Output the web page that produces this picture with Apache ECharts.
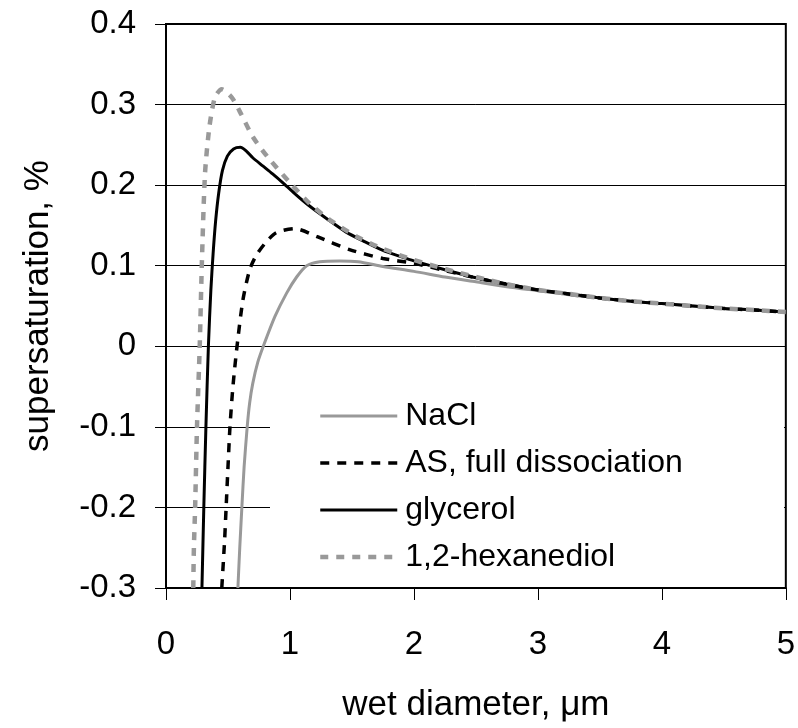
<!DOCTYPE html>
<html>
<head>
<meta charset="utf-8">
<script src="https://cdn.jsdelivr.net/npm/echarts@6/dist/echarts.min.js"></script>
<style>html,body{margin:0;padding:0;background:#fff;}#c{width:798px;height:728px;}</style>
</head>
<body>
<div id="c"></div>
<script>
var seriesNames = ['NaCl', 'AS, full dissociation', 'glycerol', '1,2-hexanediol'];
var xAxisTitle = 'wet diameter, \u03bcm';
var yAxisTitle = 'supersaturation, %';

var naclData = [[0.58,-0.30],[0.595,-0.25],[0.612,-0.20],[0.630,-0.15],[0.655,-0.10],[0.675,-0.07],[0.70,-0.046],[0.74,-0.02],[0.785,0.0],[0.879,0.037],[0.973,0.066],[1.054,0.086],[1.135,0.100],[1.24,0.105],[1.40,0.106],[1.55,0.105],[1.75,0.099],[2.0,0.093],[2.25,0.086],[2.5,0.080],[2.75,0.074],[3.0,0.069],[3.25,0.064],[3.5,0.060],[3.75,0.056],[4.0,0.053],[4.25,0.050],[4.5,0.047],[4.75,0.045],[5.0,0.0425]];
var asData = [[0.45,-0.30],[0.473,-0.24],[0.485,-0.20],[0.50,-0.15],[0.516,-0.10],[0.54,-0.05],[0.573,0.0],[0.62,0.057],[0.675,0.095],[0.725,0.112],[0.80,0.128],[0.89,0.141],[1.04,0.146],[1.22,0.136],[1.48,0.120],[1.75,0.109],[2.0,0.103],[2.25,0.094],[2.5,0.085],[2.75,0.077],[3.0,0.070],[3.25,0.065],[3.5,0.060],[3.75,0.056],[4.0,0.053],[4.25,0.050],[4.5,0.047],[4.75,0.045],[5.0,0.0425]];
var glycerolData = [[0.29,-0.30],[0.305,-0.20],[0.322,-0.10],[0.342,0.0],[0.362,0.07],[0.38,0.115],[0.40,0.155],[0.425,0.19],[0.455,0.218],[0.495,0.236],[0.545,0.245],[0.60,0.247],[0.65,0.242],[0.70,0.234],[0.78,0.224],[0.86,0.214],[0.95,0.202],[1.05,0.188],[1.15,0.175],[1.30,0.158],[1.45,0.142],[1.60,0.130],[1.75,0.119],[1.9,0.111],[2.0,0.106],[2.25,0.095],[2.5,0.085],[2.75,0.077],[3.0,0.070],[3.25,0.065],[3.5,0.060],[3.75,0.056],[4.0,0.053],[4.25,0.050],[4.5,0.047],[4.75,0.045],[5.0,0.0425]];
var hexanediolData = [[0.22,-0.30],[0.225,-0.25],[0.235,-0.20],[0.25,-0.10],[0.272,0.0],[0.29,0.107],[0.315,0.215],[0.35,0.272],[0.395,0.309],[0.45,0.319],[0.53,0.309],[0.61,0.287],[0.70,0.260],[0.82,0.235],[1.0,0.203],[1.16,0.177],[1.32,0.157],[1.54,0.136],[1.75,0.121],[2.0,0.107],[2.25,0.096],[2.5,0.086],[2.75,0.077],[3.0,0.070],[3.25,0.065],[3.5,0.060],[3.75,0.056],[4.0,0.053],[4.25,0.050],[4.5,0.047],[4.75,0.045],[5.0,0.0425]];

var FONT = "'Liberation Sans', Arial, sans-serif";
var GRAY = '#999999';
var styles = {
  'NaCl': {color: GRAY, width: 3, type: 'solid'},
  'AS, full dissociation': {color: '#000', width: 3.5, type: [9, 8]},
  'glycerol': {color: '#000', width: 3, type: 'solid'},
  '1,2-hexanediol': {color: GRAY, width: 4.5, type: [8, 8]}
};
var dataByName = {
  'NaCl': naclData,
  'AS, full dissociation': asData,
  'glycerol': glycerolData,
  '1,2-hexanediol': hexanediolData
};
var drawOrder = ['NaCl', 'glycerol', 'AS, full dissociation', '1,2-hexanediol'];

var chart = echarts.init(document.getElementById('c'), null, {renderer: 'canvas'});
chart.setOption({
  backgroundColor: '#fff',
  animation: false,
  textStyle: {fontFamily: FONT, color: '#000'},
  grid: {left: 166, right: 12, top: 24, bottom: 140, show: true, borderColor: '#000', borderWidth: 2, backgroundColor: 'transparent'},
  xAxis: {
    type: 'value', min: 0, max: 5, interval: 1,
    name: xAxisTitle, nameLocation: 'middle', nameGap: 100,
    nameTextStyle: {fontSize: 35, color: '#000', fontFamily: FONT},
    axisLine: {show: true, onZero: false, lineStyle: {color: '#000', width: 2}},
    axisTick: {show: true, inside: false, length: 12, lineStyle: {color: '#000', width: 1}},
    axisLabel: {fontSize: 33, color: '#000', margin: 40, fontFamily: FONT},
    splitLine: {show: false}
  },
  yAxis: {
    type: 'value', min: -0.3, max: 0.4, interval: 0.1,
    name: yAxisTitle, nameLocation: 'middle', nameGap: 110, nameRotate: 90,
    nameTextStyle: {fontSize: 35, color: '#000', fontFamily: FONT},
    axisLine: {show: true, onZero: false, lineStyle: {color: '#000', width: 2}},
    axisTick: {show: true, inside: false, length: 11, lineStyle: {color: '#000', width: 1}},
    axisLabel: {fontSize: 33, color: '#000', margin: 30, fontFamily: FONT,
      formatter: function (v) { return String(Math.round(v * 10) / 10); }},
    splitLine: {show: true, lineStyle: {color: '#000', width: 1}}
  },
  graphic: [{
    type: 'rect', left: 270, top: 372, z: 1, silent: true,
    shape: {width: 514, height: 214},
    style: {fill: '#fff'}
  }],
  legend: {
    orient: 'vertical', left: 318, top: 400, padding: 0,
    itemWidth: 77, itemHeight: 14, itemGap: 15,
    itemStyle: {opacity: 0},
    data: seriesNames.map(function (n) {
      var s = styles[n];
      return {name: n, itemStyle: {opacity: 0}, lineStyle: {color: s.color, width: s.width, type: s.type}};
    }),
    textStyle: {fontSize: 32, lineHeight: 32, color: '#000', fontFamily: FONT, padding: [0, 0, 0, 3]}
  },
  series: drawOrder.map(function (n, i) {
    var s = styles[n];
    return {
      name: n, type: 'line', data: dataByName[n], symbol: 'none', showSymbol: false,
      smooth: 0.25, z: 2 + i,
      lineStyle: {color: s.color, width: s.width, type: s.type},
      itemStyle: {color: s.color}
    };
  })
});
</script>
</body>
</html>
